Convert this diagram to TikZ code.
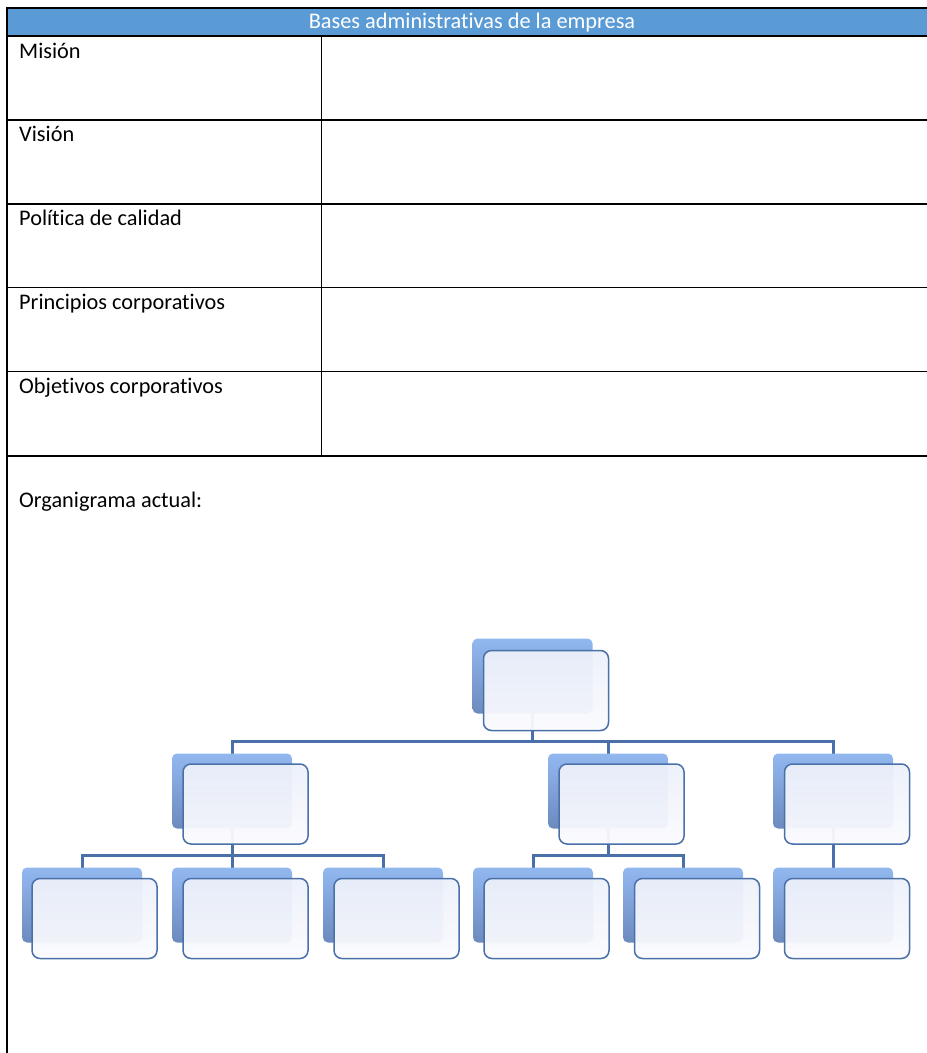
\documentclass[tikz,border=0pt]{standalone}
\usepackage{fontspec}
\setmainfont[Ligatures=NoCommon]{Carlito}
\usetikzlibrary{backgrounds}
\definecolor{headblue}{RGB}{91,155,213}
\definecolor{conncol}{RGB}{74,112,170}
\definecolor{backtop}{RGB}{146,184,240}
\definecolor{backbot}{RGB}{108,138,190}
\definecolor{fronttop}{RGB}{236,240,250}
\definecolor{frontbot}{RGB}{251,251,254}
\tikzset{
  celltext/.style={anchor=base west,inner sep=0pt,font=\fontsize{22.3}{26}\selectfont},
  headtext/.style={anchor=base,inner sep=0pt,text=white,font=\fontsize{22.3}{26}\selectfont},
  backbox/.style={rectangle,rounded corners=5pt,minimum width=120pt,minimum height=75pt,inner sep=0pt,
    top color=backtop,bottom color=backbot,draw=none},
  frontbox/.style={rectangle,rounded corners=8pt,minimum width=125pt,minimum height=80pt,inner sep=0pt,
    draw=conncol,line width=1.5pt,top color=fronttop,bottom color=frontbot,fill opacity=0.95},
  conn/.style={draw=conncol,line width=3pt},
  thinrule/.style={line width=1.2pt},
  thickrule/.style={line width=2pt}
}
\begin{document}
\begin{tikzpicture}[x=1pt,y=-1pt]
\useasboundingbox (0,0) rectangle (927,1053);
% table
\fill[headblue] (8,8.5) rectangle (927,35.5);
\draw[thickrule] (6,7.5) -- (927,7.5);
\draw[thickrule] (7,6.5) -- (7,1053);
\draw[thinrule] (7,36) -- (927,36);
\draw[thinrule] (7,120) -- (927,120);
\draw[thinrule] (7,204) -- (927,204);
\draw[thinrule] (7,287.5) -- (927,287.5);
\draw[thinrule] (7,371.5) -- (927,371.5);
\draw[thickrule] (7,455.5) -- (927,455.5);
\draw[thinrule] (321.5,36) -- (321.5,455.5);
% texts
\node[headtext] (head) at (472,28.3) {Bases administrativas de la empresa};
\node[celltext] (mision) at (19,58.5) {Misión};
\node[celltext] (vision) at (19,141.5) {Visión};
\node[celltext] (politica) at (19,225) {Política de calidad};
\node[celltext] (principios) at (19,309) {Principios corporativos};
\node[celltext] (objetivos) at (19,393) {Objetivos corporativos};
\node[celltext] (organi) at (19,507) {Organigrama actual:};
% org chart: back boxes
\node[backbox] (T) at (532.5,676) {};
\node[backbox] (M1) at (232,791) {};
\node[backbox] (M2) at (608,791) {};
\node[backbox] (M3) at (833,791) {};
\node[backbox] (B1) at (82,905) {};
\node[backbox] (B2) at (232,905) {};
\node[backbox] (B3) at (383,905) {};
\node[backbox] (B4) at (533,905) {};
\node[backbox] (B5) at (683,905) {};
\node[backbox] (B6) at (833,905) {};
% front boxes
\node[frontbox] (fT) at (546,690.5) {};
\node[frontbox] (fM1) at (245.5,804) {};
\node[frontbox] (fM2) at (621.5,804) {};
\node[frontbox] (fM3) at (847,804) {};
\node[frontbox] (fB1) at (94.5,918.5) {};
\node[frontbox] (fB2) at (245.5,918.5) {};
\node[frontbox] (fB3) at (396.5,918.5) {};
\node[frontbox] (fB4) at (546.5,918.5) {};
\node[frontbox] (fB5) at (697,918.5) {};
\node[frontbox] (fB6) at (847,918.5) {};
% connectors
\coordinate (bus1) at (532.5,741);
\coordinate (bus2) at (232,855.5);
\coordinate (bus3) at (608,855.5);
\begin{scope}[on background layer]
\draw[conn] (T.center) -- (bus1);
\draw[conn] (M1.center) -- (M1.center |- bus1) -- (M3.center |- bus1) -- (M3.center);
\draw[conn] (M2.center) -- (M2.center |- bus1);
\draw[conn] (M1.center) -- (B2.center);
\draw[conn] (B1.center) -- (B1.center |- bus2) -- (B3.center |- bus2) -- (B3.center);
\draw[conn] (M2.center) -- (bus3);
\draw[conn] (B4.center) -- (B4.center |- bus3) -- (B5.center |- bus3) -- (B5.center);
\draw[conn] (M3.center) -- (B6.center);
\end{scope}
\end{tikzpicture}
\end{document}
